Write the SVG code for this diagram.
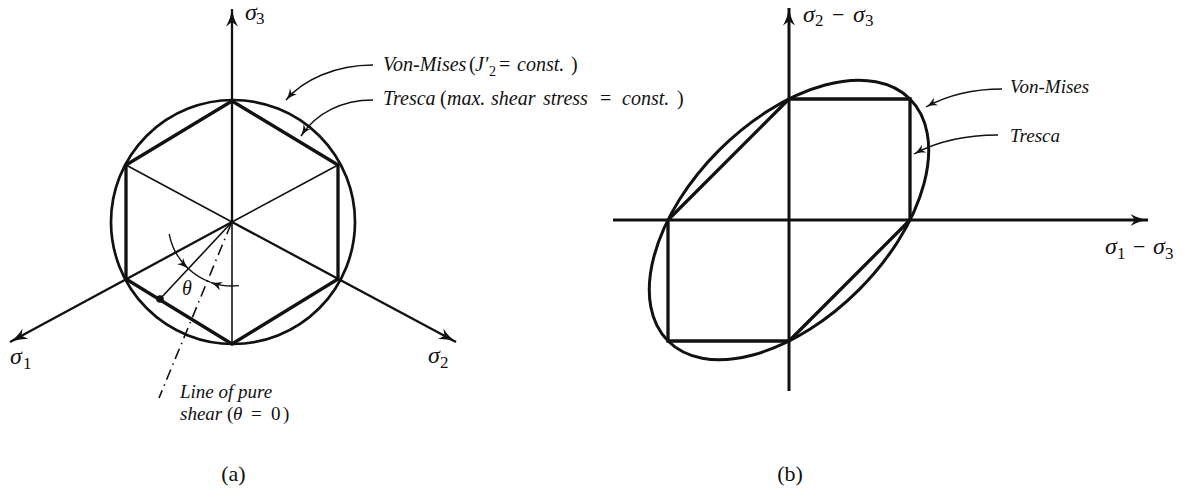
<svg xmlns="http://www.w3.org/2000/svg" width="1184" height="493" viewBox="0 0 1184 493">
<style>
.thick{stroke:#111;stroke-width:3.3;fill:none;stroke-linejoin:miter;stroke-linecap:round}
.axis{stroke:#111;stroke-width:2.3;fill:none}
.axisb{stroke:#111;stroke-width:3;fill:none}
.thin{stroke:#111;stroke-width:1.6;fill:none}
.ld{stroke:#111;stroke-width:1.4;fill:none}
.dd{stroke:#111;stroke-width:1.6;fill:none;stroke-dasharray:11 5 1.5 5}
text{font-family:"Liberation Serif","Times New Roman",serif;fill:#111}
.it{font-style:italic}
.up{font-style:normal}
.m{font-size:24px;font-style:italic}
.sub{font-size:17px;font-style:normal}
.la{font-size:20px}
.lb{font-size:19px}
.cap{font-size:22px}
</style>
<defs>
<marker id="axA" viewBox="0 0 18 12" refX="17.5" refY="6" markerWidth="18" markerHeight="12" markerUnits="userSpaceOnUse" orient="auto">
<path d="M0,0 C6,3.5 12,5.3 18,6 C12,6.7 6,8.5 0,12 L4.5,6 Z" fill="#111"/>
</marker>
<marker id="smA" viewBox="0 0 12 9" refX="11.5" refY="4.5" markerWidth="12" markerHeight="9" markerUnits="userSpaceOnUse" orient="auto">
<path d="M0,0 C4,2.5 8,4 12,4.5 C8,5 4,6.5 0,9 L3,4.5 Z" fill="#111"/>
</marker>
</defs>

<!-- Panel (a) -->
<g id="a-circle"><circle cx="233" cy="222" r="122" stroke="#111" stroke-width="2.7" fill="none"/></g>
<g id="a-inner">
<line class="thin" x1="232" y1="222" x2="126" y2="165"/>
<line class="thin" x1="232" y1="222" x2="338" y2="165"/>
<line class="thin" x1="232" y1="222" x2="232" y2="344"/>
<line class="thin" x1="232" y1="222" x2="160" y2="299"/>
<circle cx="160" cy="299" r="3.8" fill="#111"/>
<line class="dd" x1="231" y1="224" x2="159" y2="398"/>
</g>
<g id="a-hexagon"><polygon class="thick" points="232,101 338,165 338,279 232,344 126,279 126,165"/></g>
<g id="a-axes">
<line class="axis" x1="232" y1="222" x2="232" y2="9" marker-end="url(#axA)"/>
<line class="axis" x1="232" y1="222" x2="10" y2="342" marker-end="url(#axA)"/>
<line class="axis" x1="232" y1="222" x2="456" y2="342" marker-end="url(#axA)"/>
</g>
<g id="a-angle">
<path class="ld" d="M169.2,234.2 A64,64 0 0 0 188.4,268.8" marker-end="url(#smA)"/>
<path class="ld" d="M188.4,268.8 A64,64 0 0 0 210.1,282.1"/>
<path class="ld" d="M239,285.6 A64,64 0 0 1 210.5,282.3" marker-end="url(#smA)"/>
<text class="it" x="182" y="295" font-size="20">θ</text>
</g>
<g id="a-labels">
<text class="m" x="245" y="20" font-size="22">σ<tspan class="sub" x="256" y="24" font-size="16">3</tspan></text>
<text class="m" x="10" y="364">σ<tspan class="sub" x="23" y="369">1</tspan></text>
<text class="m" x="428" y="363">σ<tspan class="sub" x="440" y="368">2</tspan></text>
<text class="la"><tspan class="it" x="383" y="71">Von-Mises</tspan><tspan class="up" x="469" y="71">(</tspan><tspan class="it" x="475" y="71">J′</tspan><tspan class="up" x="489" y="76" font-size="14">2</tspan><tspan class="up" x="499" y="71">=</tspan><tspan class="it" x="517" y="71">const.</tspan><tspan class="up" x="571" y="71">)</tspan></text>
<text class="la"><tspan class="it" x="383" y="105">Tresca</tspan><tspan class="up" x="440" y="105">(</tspan><tspan class="it" x="447" y="105">max.</tspan><tspan class="it" x="491" y="105">shear</tspan><tspan class="it" x="543" y="105">stress</tspan><tspan class="up" x="600" y="105">=</tspan><tspan class="it" x="622" y="105">const.</tspan><tspan class="up" x="677" y="105">)</tspan></text>
<text class="lb"><tspan class="it" x="180" y="398">Line of pure</tspan></text>
<text class="lb"><tspan class="it" x="180" y="420">shear</tspan><tspan class="up" x="227" y="420">(</tspan><tspan class="it" x="233" y="420">θ</tspan><tspan class="up" x="251" y="420">=</tspan><tspan class="up" x="271" y="420">0</tspan><tspan class="up" x="283" y="420">)</tspan></text>
<text class="cap" x="233.5" y="481" text-anchor="middle">(a)</text>
</g>

<!-- Panel (b) -->
<g id="b-axes">
<line class="axisb" x1="613" y1="220" x2="1148" y2="220" marker-end="url(#axA)"/>
<line class="axisb" x1="789" y1="391" x2="789" y2="8" marker-end="url(#axA)"/>
</g>
<g id="b-tresca"><polygon class="thick" stroke-width="3" points="789,99 910,99 910,220 789,341 668,341 668,220"/></g>
<g id="b-vonmises"><ellipse cx="789" cy="220" rx="171.1" ry="98.8" transform="rotate(-45 789 220)" stroke="#111" stroke-width="3" fill="none"/></g>
<g id="b-labels">
<text class="m" x="803" y="22" font-size="22">σ<tspan class="sub" x="815" y="26" font-size="16">2</tspan><tspan class="up" x="832" y="22" font-size="22">−</tspan><tspan x="853" y="22">σ</tspan><tspan class="sub" x="865" y="26" font-size="16">3</tspan></text>
<text class="m" x="1105" y="254">σ<tspan class="sub" x="1117" y="259">1</tspan><tspan class="up" x="1133" y="254" font-size="22">−</tspan><tspan x="1153" y="254">σ</tspan><tspan class="sub" x="1165" y="259">3</tspan></text>
<text class="lb it" x="1010" y="93">Von-Mises</text>
<text class="lb it" x="1010" y="142">Tresca</text>
<text class="cap" x="790" y="481" text-anchor="middle">(b)</text>
</g>

<g id="connectors">
<path class="ld" d="M373,65 C335,65 303,80 286,100" marker-end="url(#smA)"/>
<path class="ld" d="M373,100 C342,100 316,113 301,136" marker-end="url(#smA)"/>
<path class="ld" d="M1002,89 C972,89 946,96 926,107" marker-end="url(#smA)"/>
<path class="ld" d="M998,135 C966,135 936,142 914,154" marker-end="url(#smA)"/>
</g>
</svg>
